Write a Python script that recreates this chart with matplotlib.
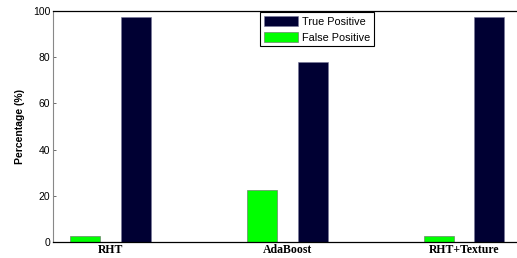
import numpy as np
import matplotlib.pyplot as plt
import matplotlib.patches as mpatches

# ── Data ───────────────────────────────────────────────────────────────────────
methods = ['RHT', 'AdaBoost', 'RHT+Texture']
false_pos = [2.7, 22.5, 2.7]
true_pos = [97.5, 77.8, 97.5]

FP_COL = '#00ff00'
TP_COL = '#000033'

# ── Layout ─────────────────────────────────────────────────────────────────────
W, H = 517, 258
fig = plt.figure(figsize=(W / 100, H / 100), dpi=100)
fig.patch.set_facecolor('white')
ax = fig.add_axes([53 / W, (H - 242) / H, (W - 53) / W, (242 - 11) / H])

x = np.arange(1, len(methods) + 1)
width = 0.17
off = 0.144
ax.bar(x - off, false_pos, width, color=FP_COL, edgecolor='#666666',
       linewidth=0.4, zorder=2)
ax.bar(x + off, true_pos, width, color=TP_COL, edgecolor='#777799',
       linewidth=0.4, zorder=2)

# ── Axes formatting ───────────────────────────────────────────────────────────
ax.set_xlim(0.672, 3.3)
ax.set_ylim(0, 100)
ax.set_yticks([0, 20, 40, 60, 80, 100])
ax.set_xticks(x)
ax.set_xticklabels(methods, fontfamily='Liberation Serif', fontweight='bold',
                   fontsize=8.5)
for lab in ax.get_yticklabels():
    lab.set_fontfamily('Liberation Sans')
    lab.set_fontsize(7.5)
ax.tick_params(axis='y', direction='in', length=2.5, width=0.6, pad=2,
               color='#555555')
ax.tick_params(axis='x', length=0, pad=1.5)
ax.set_ylabel('Percentage (%)', fontfamily='Liberation Sans',
              fontweight='bold', fontsize=7.5, labelpad=6)

ax.spines['right'].set_visible(False)
ax.spines['left'].set_color('#888888')
ax.spines['left'].set_linewidth(0.8)
ax.spines['top'].set_linewidth(0.9)
ax.spines['bottom'].set_linewidth(0.9)

# ── Legend ─────────────────────────────────────────────────────────────────────
handles = [mpatches.Patch(facecolor=TP_COL, edgecolor='#777799', linewidth=0.4,
                          label='True Positive'),
           mpatches.Patch(facecolor=FP_COL, edgecolor='#666666', linewidth=0.4,
                          label='False Positive')]
leg = ax.legend(handles=handles, loc='upper left',
                bbox_to_anchor=((260 - 53) / (W - 53), 0.995),
                prop={'family': 'Liberation Sans', 'size': 7.8},
                fancybox=False, framealpha=1, edgecolor='black',
                handlelength=3.2, handleheight=1.1, handletextpad=0.3,
                labelspacing=0.45, borderpad=0.35, borderaxespad=0)
leg.get_frame().set_linewidth(0.8)

plt.savefig('out.png', dpi=100, facecolor='white')
